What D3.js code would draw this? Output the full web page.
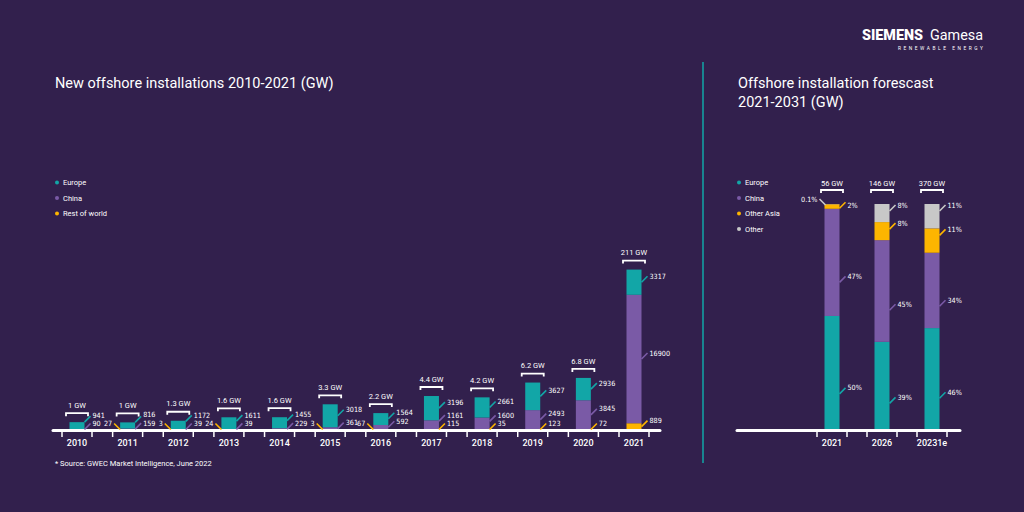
<!DOCTYPE html>
<html>
<head>
<meta charset="utf-8">
<script src="https://cdn.jsdelivr.net/npm/d3@7"></script>
<style>
  html, body { margin: 0; padding: 0; background: #32204d; }
  svg { display: block; font-family: Roboto, "Noto Sans", sans-serif; }
  .val { font-family: "Liberation Sans Narrow", "DejaVu Sans Condensed", Roboto, sans-serif; }
</style>
</head>
<body>
<div id="chart"></div>
<script>
// New installations per year (MW)
const years = [2010, 2011, 2012, 2013, 2014, 2015, 2016, 2017, 2018, 2019, 2020, 2021];
const europe = [941, 816, 1172, 1611, 1455, 3018, 1564, 3196, 2661, 3627, 2936, 3317];
const china = [90, 159, 39, 39, 229, 361, 592, 1161, 1600, 2493, 3845, 16900];
const restOfWorld = [0, 27, 3, 24, 0, 3, 67, 115, 35, 123, 72, 889];
const totalLabels = ["1 GW", "1 GW", "1.3 GW", "1.6 GW", "1.6 GW", "3.3 GW", "2.2 GW",
                     "4.4 GW", "4.2 GW", "6.2 GW", "6.8 GW", "211 GW"];

// Forecast shares (%)
const forecastYears = ["2021", "2026", "20231e"];
const forecastTotals = ["56 GW", "146 GW", "370 GW"];
const europeShare = [50, 39, 46];
const chinaShare = [47, 45, 34];
const otherAsiaShare = [2, 8, 11];
const otherShare = [0.1, 8, 11];

const width = 1024, height = 512;
const colors = { europe: "#12a6a7", china: "#7a5aa6", row: "#fdb500", otherAsia: "#fdb500", other: "#c8c8c8" };

const svg = d3.select("#chart").append("svg")
    .attr("width", width)
    .attr("height", height);

svg.append("rect").attr("width", width).attr("height", height).attr("fill", "#32204d");

// logo
svg.append("text").attr("x", 862).attr("y", 40).attr("fill", "white").attr("font-size", 14)
    .attr("font-weight", 900).attr("textLength", 61).attr("lengthAdjust", "spacingAndGlyphs").text("SIEMENS");
svg.append("text").attr("x", 930).attr("y", 40).attr("fill", "white").attr("font-size", 14)
    .attr("textLength", 53).attr("lengthAdjust", "spacingAndGlyphs").text("Gamesa");
svg.append("text").attr("x", 898).attr("y", 50).attr("fill", "white")
    .attr("font-size", 4.8).attr("textLength", 85).text("RENEWABLE ENERGY");

// titles
svg.append("text").attr("x", 55).attr("y", 88).attr("fill", "white").attr("font-size", 14.5)
    .text("New offshore installations 2010-2021 (GW)");
svg.append("text").attr("x", 738).attr("y", 88).attr("fill", "white").attr("font-size", 14.5)
    .text("Offshore installation forescast");
svg.append("text").attr("x", 738).attr("y", 107).attr("fill", "white").attr("font-size", 14.5)
    .text("2021-2031 (GW)");

svg.append("line").attr("x1", 703).attr("x2", 703).attr("y1", 62).attr("y2", 463)
    .attr("stroke", colors.europe).attr("stroke-width", 1.5);

svg.append("text").attr("x", 55).attr("y", 466).attr("fill", "white").attr("font-size", 7.5)
    .text("* Source: GWEC Market Intelligence, June 2022");

function legend(x, y, items) {
    const g = svg.append("g").attr("font-size", 7.5).attr("fill", "white");
    items.forEach((it, i) => {
        g.append("circle").attr("cx", x).attr("cy", y + i * 15.5).attr("r", 2).attr("fill", it[1]);
        g.append("text").attr("x", x + 6).attr("y", y + i * 15.5).attr("dy", "0.35em").text(it[0]);
    });
}
legend(57, 182.5, [["Europe", colors.europe], ["China", colors.china], ["Rest of world", colors.row]]);
legend(739, 182.5, [["Europe", colors.europe], ["China", colors.china], ["Other Asia", colors.otherAsia], ["Other", colors.other]]);

const baseY = 430;
const barW = 15;

function axis(x, domain, x1, x2) {
    const g = svg.append("g");
    g.append("line").attr("x1", x1).attr("x2", x2).attr("y1", baseY + 0.5).attr("y2", baseY + 0.5)
        .attr("stroke", "white").attr("stroke-width", 3).attr("stroke-linecap", "round");
    domain.forEach(d => {
        [-15, 15].forEach(o => {
            g.append("line").attr("x1", x(d) + o).attr("x2", x(d) + o).attr("y1", baseY + 1).attr("y2", baseY + 7)
                .attr("stroke", "white").attr("stroke-width", 1.5);
        });
        g.append("text").attr("x", x(d)).attr("y", baseY + 16).attr("text-anchor", "middle")
            .attr("fill", "white").attr("font-size", 9).attr("font-weight", 500).text(d);
    });
}

function bracket(cx, top, off, toff, label) {
    svg.append("path")
        .attr("d", `M${cx - 11},${top - off + 3}V${top - off}H${cx + 11}V${top - off + 3}`)
        .attr("fill", "none").attr("stroke", "white").attr("stroke-width", 1.8);
    svg.append("text").attr("x", cx).attr("y", top - toff).attr("dy", "0.35em")
        .attr("text-anchor", "middle").attr("fill", "white").attr("font-size", 7.5).text(label);
}

function valueLabel(side, xEdge, y, anchorY, color, txt) {
    const s = side === "right" ? 1 : -1;
    svg.append("line").attr("x1", xEdge).attr("y1", anchorY).attr("x2", xEdge + s * 6).attr("y2", anchorY - 6)
        .attr("stroke", color).attr("stroke-width", 1.6);
    svg.append("text").attr("class", "val").attr("x", xEdge + s * 8).attr("y", y).attr("dy", "0.35em")
        .attr("text-anchor", side === "right" ? "start" : "end")
        .attr("fill", "white").attr("font-size", 7.2).text(txt);
}

// ---- left chart ----
const xL = d3.scalePoint().domain(years).range([77, 634]);
const yL = d3.scaleLinear().domain([0, 30000]).range([baseY, baseY - 228]);

const rowsL = years.map((yr, i) => ({ year: yr, row: restOfWorld[i], china: china[i], europe: europe[i] }));
const stackL = d3.stack().keys(["row", "china", "europe"])(rowsL);

svg.append("g").selectAll("g").data(stackL).join("g")
    .attr("fill", d => colors[d.key])
    .selectAll("rect").data(d => d).join("rect")
    .attr("x", d => xL(d.data.year) - barW / 2)
    .attr("y", d => yL(d[1]))
    .attr("width", barW)
    .attr("height", d => yL(d[0]) - yL(d[1]));

axis(xL, years, 53, 660);

years.forEach((yr, i) => {
    const cx = xL(yr);
    const right = cx + barW / 2, left = cx - barW / 2;
    const top = yL(stackL[2][i][1]);
    bracket(cx, top, 9, 17, totalLabels[i]);

    // labels from the bottom up; early years put rest of world on the left
    const items = [];
    stackL.forEach(s => {
        const v = s[i].data[s.key];
        if (!v) return;
        const y0 = yL(s[i][0]), y1 = yL(s[i][1]);
        if (s.key === "row" && yr <= 2016) {
            valueLabel("left", left, baseY - 6.5, baseY - 0.5, colors.row, v);
            return;
        }
        items.push({ key: s.key, v, y0, y1, y: (y0 + y1) / 2 - 6 });
    });
    for (let k = 1; k < items.length; k++) {
        if (items[k].y > items[k - 1].y - 8.5) items[k].y = items[k - 1].y - 8.5;
    }
    items.forEach(it => {
        const a = Math.min(Math.max(it.y + 6, it.y1), it.y0 - 0.5);
        valueLabel("right", right, it.y, a, colors[it.key], it.v);
    });
});

// ---- right chart ----
const xR = d3.scalePoint().domain(forecastYears).range([832, 932]);
const yR = d3.scaleLinear().domain([0, 1]).range([baseY, 204]);

const rowsR = forecastYears.map((yr, i) => ({
    year: yr, europe: europeShare[i], china: chinaShare[i], otherAsia: otherAsiaShare[i], other: otherShare[i]
}));
const stackR = d3.stack().keys(["europe", "china", "otherAsia", "other"]).offset(d3.stackOffsetExpand)(rowsR);

svg.append("g").selectAll("g").data(stackR).join("g")
    .attr("fill", d => colors[d.key])
    .selectAll("rect").data(d => d).join("rect")
    .attr("x", d => xR(d.data.year) - barW / 2)
    .attr("y", d => yR(d[1]))
    .attr("width", barW)
    .attr("height", d => yR(d[0]) - yR(d[1]));

axis(xR, forecastYears, 737, 960);

forecastYears.forEach((yr, i) => {
    const cx = xR(yr);
    const right = cx + barW / 2, left = cx - barW / 2;
    const top = yR(1);
    bracket(cx, top, 14, 21, forecastTotals[i]);

    const items = [];
    stackR.slice().reverse().forEach(s => {
        const v = s[i].data[s.key];
        const y0 = yR(s[i][0]), y1 = yR(s[i][1]);
        if (v < 1) {
            valueLabel("left", left + 1, top - 5, top + 1, colors[s.key], v + "%");
            return;
        }
        const h = y0 - y1;
        const y = h > 40 ? y0 - 0.37 * h : y1 + 1;
        items.push({ key: s.key, v, y0, y1, y });
    });
    for (let k = 1; k < items.length; k++) {
        if (items[k].y < items[k - 1].y + 9) items[k].y = items[k - 1].y + 9;
    }
    items.forEach(it => {
        const a = Math.min(Math.max(it.y + 6, it.y1), it.y0 - 0.5);
        valueLabel("right", right, it.y, a, colors[it.key], it.v + "%");
    });
});
</script>
</body>
</html>
